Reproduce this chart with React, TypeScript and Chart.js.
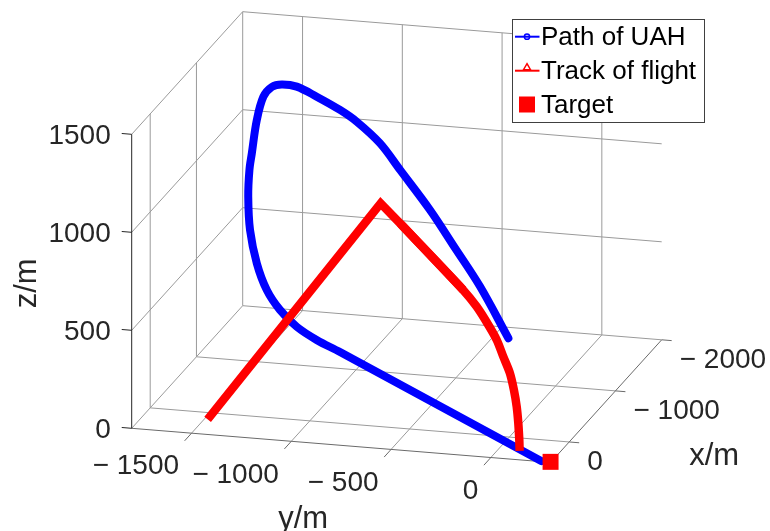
import React, { useEffect, useRef } from "react";
import { Chart, registerables } from "chart.js";

Chart.register(...registerables);

// ---------- axes ----------
const xLimits = [-2000, 400];
const yLimits = [-1800, 300];
const zLimits = [0, 1500];

const xTicks = [-2000, -1000, 0];
const yTicks = [-1500, -1000, -500, 0];
const zTicks = [0, 500, 1000, 1500];
const xTickLabels = ["\u2212 2000", "\u2212 1000", "0"];
const yTickLabels = ["\u2212 1500", "\u2212 1000", "\u2212 500", "0"];
const zTickLabels = ["0", "500", "1000", "1500"];
const axisTitles = ["x/m", "y/m", "z/m"];
const seriesNames = ["Path of UAH", "Track of flight", "Target"];

// ---------- Path of UAH ----------
const uahX = [390, -1300, -1300, -1300, -1300, -1300, -1300, -1300, -1300, -1300, -1300, -1300, -1300, -1300, -1300, -1300, -1300, -1300, -1300, -1300, -1300, -1300, -1300, -1300, -1300];
const uahY = [250, -1150, -1267, -1367, -1451, -1517, -1567, -1601, -1610, -1604, -1592, -1567, -1534, -1492, -1442, -1367, -1267, -1150, -1066, -950, -849, -699, -574, -448, -306];
const uahZ = [0, 0, 52, 111, 190, 286, 418, 585, 755, 891, 977, 1149, 1271, 1324, 1341, 1336, 1293, 1235, 1182, 1082, 954, 762, 579, 392, 140];

// ---------- Track of flight ----------
const trackX = [160, 160, 160, 160, 160, 160, 160, 160, 160, 160, 160, 160, 160, 160];
const trackY = [-1475, -608, -494, -194, -127, -68, -26, 7, 40, 60, 74, 82, 87, 88];
const trackZ = [10, 1184, 1074, 776, 697, 608, 535, 452, 371, 287, 203, 119, 34, 0];
const trackKink = 2; // climb is a straight leg up to the peak, dive after

// ---------- Target ----------
const targetX = [390];
const targetY = [297];
const targetZ = [0];

// ---------- view (camera): where the box corners land in the plot plane ----------
const VIEW = {
  frontLeftBottom: [131.7, 428.3],
  backLeftBottom: [242.7, 305.7],
  frontRightBottom: [550.7, 462.4],
  frontLeftTop: [131.7, 134.3],
};
const PLANE_W = 770;
const PLANE_H = 531;

const FONT = "'Liberation Sans', Arial, Helvetica, sans-serif";
const TICK_SIZE = 28;
const TITLE_SIZE = 31;
const LEGEND_SIZE = 26;

function project(x: number, y: number, z: number) {
  const [ax, ay] = VIEW.frontLeftBottom;
  const [dx, dy] = VIEW.backLeftBottom;
  const [bx, by] = VIEW.frontRightBottom;
  const [tx, ty] = VIEW.frontLeftTop;
  const fx = (xLimits[1] - x) / (xLimits[1] - xLimits[0]);
  const fy = (y - yLimits[0]) / (yLimits[1] - yLimits[0]);
  const fz = (z - zLimits[0]) / (zLimits[1] - zLimits[0]);
  return {
    x: ax + fx * (dx - ax) + fy * (bx - ax) + fz * (tx - ax),
    y: ay + fx * (dy - ay) + fy * (by - ay) + fz * (ty - ay),
  };
}

type P3 = [number, number, number];
function segmentsToData(segs: [P3, P3][]) {
  const out: any[] = [];
  segs.forEach(([a, b]) => {
    out.push(project(...a));
    out.push(project(...b));
    out.push({ x: null, y: null });
  });
  return out;
}

function buildGrid() {
  const [x0, x1] = xLimits;
  const [y0, y1] = yLimits;
  const [z0, z1] = zLimits;
  const segs: [P3, P3][] = [];
  // floor
  xTicks.forEach((x) => segs.push([[x, y0, z0], [x, y1, z0]]));
  yTicks.forEach((y) => segs.push([[x0, y, z0], [x1, y, z0]]));
  // left wall (y = ymin)
  xTicks.forEach((x) => segs.push([[x, y0, z0], [x, y0, z1]]));
  zTicks.forEach((z) => segs.push([[x0, y0, z], [x1, y0, z]]));
  // back wall (x = xmin)
  yTicks.forEach((y) => segs.push([[x0, y, z0], [x0, y, z1]]));
  zTicks.forEach((z) => { if (z !== z0) segs.push([[x0, y0, z], [x0, y1, z]]); });
  return segmentsToData(segs);
}

function buildAxes() {
  const [x0, x1] = xLimits;
  const [y0, y1] = yLimits;
  const [z0] = zLimits;
  const segs: [P3, P3][] = [];
  segs.push([[x1, y0, z0], [x1, y1, z0]]); // y axis
  segs.push([[x0, y1, z0], [x1, y1, z0]]); // x axis
  yTicks.forEach((y) => segs.push([[x1, y, z0], [x1 + 150, y, z0]]));
  xTicks.forEach((x) => segs.push([[x, y1, z0], [x, y1 + 50, z0]]));
  return segmentsToData(segs);
}

function buildZAxis() {
  const [, x1] = xLimits;
  const [y0] = yLimits;
  const [z0, z1] = zLimits;
  const segs: [P3, P3][] = [];
  segs.push([[x1, y0, z0], [x1, y0, z1]]);
  zTicks.forEach((z) => segs.push([[x1, y0, z], [x1, y0 - 50, z]]));
  return segmentsToData(segs);
}

const labelsPlugin = {
  id: "labels3d",
  afterDatasetsDraw(chart: any) {
    const { ctx } = chart;
    const sx = chart.scales.x;
    const sy = chart.scales.y;
    const px = (p: { x: number; y: number }) => ({ x: sx.getPixelForValue(p.x), y: sy.getPixelForValue(p.y) });
    ctx.save();
    ctx.fillStyle = "#262626";
    ctx.font = `${TICK_SIZE}px ${FONT}`;
    // z tick labels
    ctx.textAlign = "right";
    ctx.textBaseline = "middle";
    zTicks.forEach((z, i) => {
      const p = px(project(xLimits[1], yLimits[0], z));
      ctx.fillText(zTickLabels[i], p.x - 21, p.y + 1.5);
    });
    // y tick labels
    yTicks.forEach((y, i) => {
      const p = px(project(xLimits[1], y, zLimits[0]));
      ctx.fillText(yTickLabels[i], p.x - 12.5, p.y + 33.5);
    });
    // x tick labels
    ctx.textAlign = "left";
    xTicks.forEach((x, i) => {
      const p = px(project(x, yLimits[1], zLimits[0]));
      ctx.fillText(xTickLabels[i], p.x + 18, p.y + 20);
    });
    // axis titles
    ctx.font = `${TITLE_SIZE}px ${FONT}`;
    ctx.textAlign = "center";
    ctx.textBaseline = "alphabetic";
    const xm = px(project((xLimits[0] + xLimits[1]) / 2, yLimits[1], zLimits[0]));
    ctx.fillText(axisTitles[0], xm.x + 108, xm.y + 64);
    const ym = px(project(xLimits[1], (yLimits[0] + yLimits[1]) / 2, zLimits[0]));
    ctx.fillText(axisTitles[1], ym.x - 38, ym.y + 83);
    const zm = px(project(xLimits[1], yLimits[0], (zLimits[0] + zLimits[1]) / 2));
    ctx.save();
    ctx.translate(zm.x - 104, zm.y + 2);
    ctx.rotate(-Math.PI / 2);
    ctx.textBaseline = "middle";
    ctx.fillText(axisTitles[2], 0, 0);
    ctx.restore();

    // legend
    const lx = 512.5, ly = 19.5, lw = 192, lh = 103;
    ctx.fillStyle = "#ffffff";
    ctx.fillRect(lx, ly, lw, lh);
    ctx.strokeStyle = "#404040";
    ctx.lineWidth = 1;
    ctx.strokeRect(lx, ly, lw, lh);
    const rows = [36.7, 70.7, 104.5];
    const colors = ["#0000ff", "#ff0000", "#ff0000"];
    ctx.lineWidth = 2;
    for (let i = 0; i < 2; i++) {
      ctx.strokeStyle = colors[i];
      ctx.beginPath();
      ctx.moveTo(515, rows[i]);
      ctx.lineTo(539.5, rows[i]);
      ctx.stroke();
    }
    ctx.lineWidth = 1.5;
    ctx.strokeStyle = colors[0];
    ctx.beginPath();
    ctx.arc(527, rows[0], 2.6, 0, Math.PI * 2);
    ctx.stroke();
    ctx.strokeStyle = colors[1];
    ctx.beginPath();
    ctx.moveTo(527, rows[1] - 7);
    ctx.lineTo(530.5, rows[1] - 1);
    ctx.lineTo(523.5, rows[1] - 1);
    ctx.closePath();
    ctx.stroke();
    ctx.fillStyle = colors[2];
    ctx.fillRect(519, rows[2] - 8, 16, 16);
    ctx.fillStyle = "#000000";
    ctx.font = `${LEGEND_SIZE}px ${FONT}`;
    ctx.textAlign = "left";
    ctx.textBaseline = "middle";
    seriesNames.forEach((n, i) => ctx.fillText(n, 541, rows[i] + 1));
    ctx.restore();
  },
};

export default function App() {
  const ref = useRef<HTMLCanvasElement | null>(null);
  useEffect(() => {
    if (!ref.current) return;
    const uah = uahX.map((x, i) => project(x, uahY[i], uahZ[i]));
    const track = trackX.map((x, i) => project(x, trackY[i], trackZ[i]));
    const target = targetX.map((x, i) => project(x, targetY[i], targetZ[i]));
    const trackLeg = track.slice(0, trackKink + 2);
    const trackDive = track.slice(trackKink);
    const chart = new Chart(ref.current, {
      type: "scatter",
      data: {
        datasets: [
          {
            label: seriesNames[2],
            data: target,
            pointStyle: "rect",
            pointRadius: 11.3,
            pointBorderWidth: 0,
            backgroundColor: "#ff0000",
            borderColor: "#ff0000",
            showLine: false,
            order: 0,
          },
          {
            label: seriesNames[1],
            data: trackLeg,
            showLine: true,
            borderColor: "#ff0000",
            borderWidth: 8.5,
            pointRadius: 0,
            borderCapStyle: "butt",
            borderJoinStyle: "miter",
            tension: 0,
            order: 1,
          },
          {
            label: seriesNames[1] + " (dive)",
            data: trackDive,
            showLine: true,
            borderColor: "#ff0000",
            borderWidth: 8.5,
            pointRadius: 0,
            borderCapStyle: "square",
            borderJoinStyle: "round",
            tension: 0.3,
            order: 1,
          },
          {
            label: seriesNames[0],
            data: uah,
            showLine: true,
            borderColor: "#0000ff",
            borderWidth: 8,
            pointRadius: 0,
            borderCapStyle: "round",
            borderJoinStyle: "round",
            tension: 0.35,
            order: 2,
          },
          {
            label: "z-axis",
            data: buildZAxis(),
            showLine: true,
            borderColor: "#262626",
            borderWidth: 1,
            pointRadius: 0,
            spanGaps: false,
            order: 3,
          },
          {
            label: "axes",
            data: buildAxes(),
            showLine: true,
            borderColor: "#6a6a6a",
            borderWidth: 1,
            pointRadius: 0,
            spanGaps: false,
            order: 4,
          },
          {
            label: "grid",
            data: buildGrid(),
            showLine: true,
            borderColor: "#9a9a9a",
            borderWidth: 1,
            pointRadius: 0,
            spanGaps: false,
            order: 5,
          },
        ] as any,
      },
      options: {
        animation: false,
        responsive: false,
        maintainAspectRatio: false,
        events: [],
        layout: { padding: 0, autoPadding: false },
        plugins: { legend: { display: false }, tooltip: { enabled: false } },
        scales: {
          x: { type: "linear", min: 0, max: PLANE_W, display: false },
          y: { type: "linear", min: 0, max: PLANE_H, reverse: true, display: false },
        },
      },
      plugins: [labelsPlugin],
    });
    return () => chart.destroy();
  }, []);
  return (
    <div style={{ position: "absolute", left: 0, top: 0, width: PLANE_W, height: PLANE_H, background: "#fff" }}>
      <canvas ref={ref} width={PLANE_W} height={PLANE_H} style={{ display: "block" }} />
    </div>
  );
}
